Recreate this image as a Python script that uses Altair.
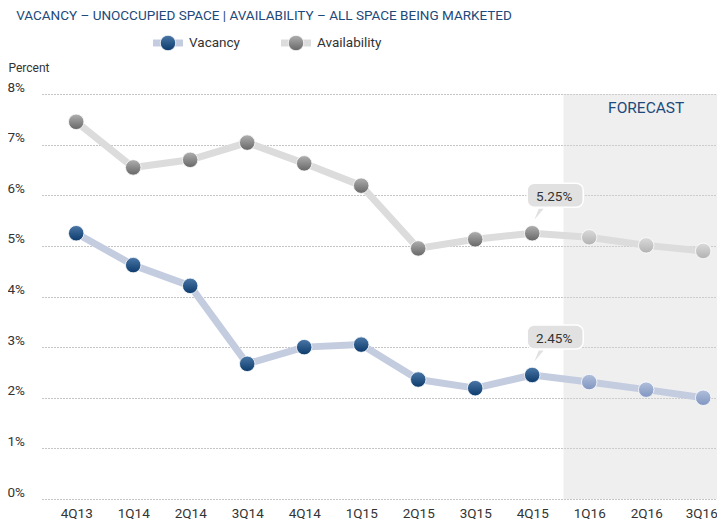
import altair as alt
import pandas as pd

quarters = ["4Q13", "1Q14", "2Q14", "3Q14", "4Q14", "1Q15", "2Q15", "3Q15", "4Q15", "1Q16", "2Q16", "3Q16"]
vacancy = [5.25, 4.62, 4.21, 2.67, 3.00, 3.05, 2.36, 2.19, 2.45, 2.31, 2.16, 2.00]
availability = [7.45, 6.55, 6.70, 7.04, 6.63, 6.19, 4.95, 5.13, 5.25, 5.17, 5.01, 4.90]
forecast_from = 9  # index of first forecast quarter (1Q16)
series_names = ["Vacancy", "Availability"]
callout_quarter = "4Q15"
title_text = "VACANCY \u2013 UNOCCUPIED SPACE  |  AVAILABILITY \u2013 ALL SPACE BEING MARKETED"

FONT = "Liberation Sans Narrow, Roboto, sans-serif"
NAVY = "#1d4a7a"
W, H = 675, 405
XMAX = 11.242

rows = []
for i, q in enumerate(quarters):
    rows.append({"i": i, "q": q, "series": "Vacancy", "v": vacancy[i], "fc": i >= forecast_from})
    rows.append({"i": i, "q": q, "series": "Availability", "v": availability[i], "fc": i >= forecast_from})
df = pd.DataFrame(rows)

x_scale = alt.Scale(domain=[-0.6, XMAX], nice=False, zero=False)
y_scale = alt.Scale(domain=[0, 8], nice=False)
label_arr = "[" + ",".join("'%s'" % q for q in quarters) + "]"
last_i = len(quarters) - 1

x_enc = alt.X("i:Q", scale=x_scale, axis=alt.Axis(
    values=list(range(len(quarters))), labelExpr=label_arr + "[datum.value]",
    grid=False, domain=False, ticks=False, labelPadding=7, labelFont=FONT,
    labelFontSize=13.5, labelColor="#333333", labelFlush=False,
    labelOffset={"expr": "datum.value == %d ? -2 : 0" % last_i}, title=None))
y_enc = alt.Y("v:Q", scale=y_scale, axis=alt.Axis(
    values=list(range(0, 9)), labelExpr="datum.value + '%'", grid=True,
    gridDash=[1, 2], gridColor="#8a8a8a", gridWidth=1, domain=False, ticks=False,
    labelAlign="left", labelPadding=35, labelBaseline="middle", labelOffset=-7,
    labelFont=FONT, labelFontSize=13.5, labelColor="#333333",
    title="Percent", titleAngle=0, titleAlign="left", titleBaseline="middle",
    titleX=-34, titleY=-27, titleFont=FONT, titleFontSize=12,
    titleFontWeight="normal", titleColor="#333333"))

base = alt.Chart(df)

# forecast band
band_df = pd.DataFrame({"x": [forecast_from - 0.45], "x2": [XMAX], "y": [0], "y2": [8],
                        "label": ["FORECAST"], "xt": [10]})
band = alt.Chart(band_df).mark_rect(color="#d6d6d6", opacity=0.4).encode(
    x=alt.X("x:Q", scale=x_scale), x2="x2:Q", y=alt.Y("y:Q", scale=y_scale), y2="y2:Q")
band_text = alt.Chart(band_df).mark_text(font=FONT, fontSize=15.5, color=NAVY).encode(
    x=alt.X("xt:Q", scale=x_scale), y=alt.value(14), text="label:N")

line_colors = {"Vacancy": "#c4cce0", "Availability": "#dcdcdc"}
lines = [
    base.transform_filter(alt.datum.series == s).mark_line(
        color=line_colors[s], strokeWidth=7, strokeJoin="round").encode(x=x_enc, y=y_enc)
    for s in series_names
]

def grad(top, bottom):
    return alt.LinearGradient(gradient="linear", x1=0, x2=0, y1=0, y2=1,
                              stops=[alt.GradientStop(offset=0, color=top),
                                     alt.GradientStop(offset=1, color=bottom)])

fills = {
    ("Vacancy", False): grad("#4a77a6", "#0b3a6c"),
    ("Vacancy", True): grad("#b0bfdb", "#8095c0"),
    ("Availability", False): grad("#b0b0b0", "#666666"),
    ("Availability", True): grad("#dadada", "#b2b2b2"),
}
points = []
for (s, fc), g in fills.items():
    points.append(base.transform_filter(
        (alt.datum.series == s) & (alt.datum.fc == fc)).mark_point(
        shape="circle", filled=True, fill=g, size=240, stroke="white",
        strokeWidth=0.8, opacity=1).encode(x=x_enc, y=y_enc))

# callouts
call = base.transform_filter(alt.datum.q == callout_quarter)
call_box = call.mark_rect(color="#e1e1e1", cornerRadius=7, stroke="white", strokeWidth=1.5,
                          xOffset=-5, x2Offset=51, yOffset=-50, y2Offset=-26).encode(
    x=x_enc, x2="i:Q", y=y_enc, y2="v:Q")
call_ptr = call.mark_point(shape="M 0.1 -1 L 1 -1 L -0.7 1 Z", filled=True, color="#e1e1e1",
                           size=120, opacity=1, xOffset=6, yOffset=-19).encode(x=x_enc, y=y_enc)
call_pct = call.transform_calculate(t="format(datum.v, '.2f') + '%'").mark_text(
    font=FONT, fontSize=13.5, color="#333333", dx=22, dy=-36).encode(x=x_enc, y=y_enc, text="t:N")

# title and legend (drawn in padding area)
title = alt.Chart(pd.DataFrame({"t": [title_text]})).mark_text(
    font=FONT, fontSize=13.5, color=NAVY).encode(x=alt.value(222), y=alt.value(-78), text="t:N")

legend_layers = []
leg_line_color = ["#c4cce0", "#dcdcdc"]
leg_fill = [fills[("Vacancy", False)], fills[("Availability", False)]]
for k, s in enumerate(series_names):
    cx = [126, 254][k]
    d = alt.Chart(pd.DataFrame({"name": [s]}))
    legend_layers.append(d.mark_rule(color=leg_line_color[k], strokeWidth=7).encode(
        x=alt.value(cx - 15), x2=alt.value(cx + 15), y=alt.value(-51)))
    legend_layers.append(d.mark_point(shape="circle", filled=True, fill=leg_fill[k], size=240,
                                      opacity=1, stroke="white", strokeWidth=0.8).encode(
        x=alt.value(cx), y=alt.value(-51)))
    legend_layers.append(d.mark_text(font=FONT, fontSize=13.5, color="#333333", align="left").encode(
        x=alt.value(cx + 21), y=alt.value(-51), text="name:N"))

chart = alt.layer(
    band, band_text, *lines, *points, call_ptr, call_box, call_pct, title, *legend_layers
).properties(
    width=W, height=H,
    autosize=alt.AutoSizeParams(type="none"),
    padding={"left": 34, "top": 86, "right": 0, "bottom": 20},
).configure_view(stroke=None)

chart.save("out.html", embed_options={"renderer": "svg", "actions": False})
